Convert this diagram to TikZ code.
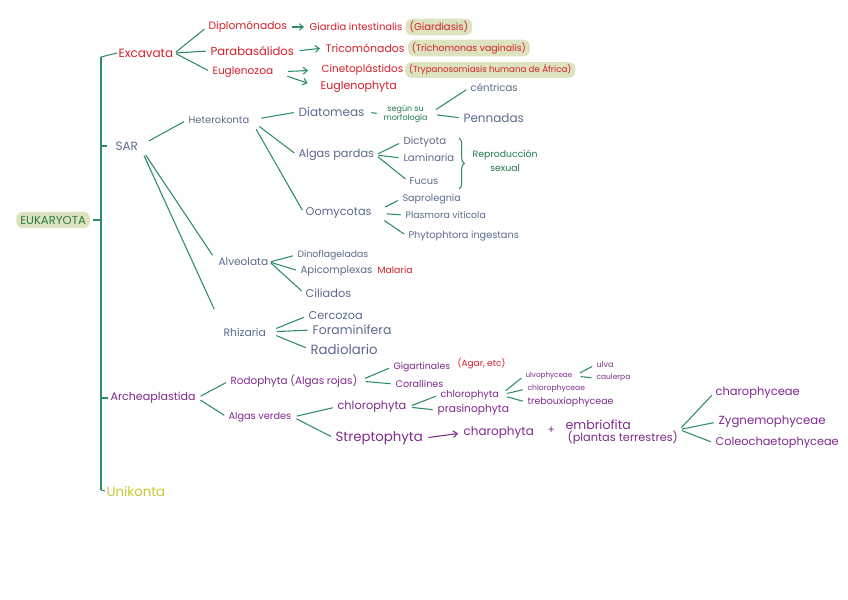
\documentclass[tikz,border=0pt]{standalone}
\usepackage{fontspec}
\setmainfont{Poppins}
\usetikzlibrary{arrows.meta, positioning, decorations.pathreplacing}
\usepackage{xcolor}
\definecolor{lineg}{HTML}{2E8B6C}
\definecolor{redc}{HTML}{D81E2A}
\definecolor{slate}{HTML}{5A6A8E}
\definecolor{purp}{HTML}{7E2A8C}
\definecolor{notec}{HTML}{1F7A4C}
\definecolor{eukc}{HTML}{2F7A4A}
\definecolor{hl}{HTML}{DCE3BE}
\definecolor{yelc}{HTML}{C5CB2E}
\tikzset{
    txt/.style={
        anchor=west, inner sep=1pt
    },
    fs/.style={
        font=\fontsize{#1}{#1}\selectfont
    },
    exctext/.style={
        txt, text=redc
    },
    sartext/.style={
        txt, text=slate
    },
    arqtext/.style={
        txt, text=purp
    },
    note/.style={
        txt, text=notec, align=center
    },
    hlbox/.style={
        fill=hl, rounded corners=5pt, inner xsep=3pt, inner ysep=2pt
    },
    fork/.style={
        draw=lineg, line width=0.8pt, shorten <=#1, shorten >=2.5pt
    },
    fork/.default=1pt,
    tick/.style={
        draw=lineg, line width=0.8pt
    },
    arrow/.style={
        draw=lineg, line width=0.8pt, -{Straight Barb[length=3pt, width=5pt]},
        shorten <=3pt, shorten >=3pt
    },
    brace/.style={
        draw=lineg, line width=0.8pt, decorate,
        decoration={brace, amplitude=4pt}
    }
}

\begin{document}
\begin{tikzpicture}[x=0.75pt, y=-0.75pt]

    \useasboundingbox (0,0) rectangle (848,599);

    % ── Root and main line ──
    \node[txt, hlbox, text=eukc, fs=8.7, inner ysep=3pt] (euk) at (16,220) {EUKARYOTA};

    \coordinate (m-top) at (101,57);
    \coordinate (m-sar) at (101,146);
    \coordinate (m-euk) at (101,220);
    \coordinate (m-arq) at (101,398);
    \coordinate (m-bot) at (101,490);

    % ── Excavata ──
    \node[exctext, fs=9]   (exc)  at (117,53)  {Excavata};
    \node[exctext, fs=8]   (dipl) at (207,27)  {Diplomónados};
    \node[exctext, fs=8.7] (para) at (209,51)  {Parabasálidos};
    \node[exctext, fs=7.9] (eugl) at (211,72)  {Euglenozoa};

    \node[exctext, fs=7.5] (giar) at (308,27)  {Giardia intestinalis};
    \node[exctext, hlbox, fs=7.5, right=1pt of giar] (giard) {(Giardiasis)};
    \node[exctext, fs=8.2] (trico) at (324,48) {Tricomónados};
    \node[exctext, hlbox, fs=7, right=1pt of trico] (trich) {(Trichomonas vaginalis)};
    \node[exctext, fs=7.8] (cine) at (320,70)  {Cinetoplástidos};
    \node[exctext, hlbox, fs=6.5, right=0pt of cine] (tryp) {(Trypanosomiasis humana de África)};
    \node[exctext, fs=8.3] (euph) at (319,87)  {Euglenophyta};

    % ── SAR ──
    \node[sartext, fs=9]   (sar)  at (114,146) {SAR};
    \node[sartext, fs=7.4] (het)  at (187,120) {Heterokonta};
    \node[sartext, fs=7.9] (alv)  at (217,262) {Alveolata};
    \node[sartext, fs=8.1] (rhi)  at (222,332) {Rhizaria};

    \node[sartext, fs=9]   (diat) at (297,112) {Diatomeas};
    \node[note, font=\fontsize{6}{7}\selectfont] (segun) at (382,114) {según su\\morfología};
    \node[sartext, fs=7.6] (cent) at (469,88)  {céntricas};
    \node[sartext, fs=9]   (penn) at (462,118) {Pennadas};

    \node[sartext, fs=8.5] (pard) at (297,155) {Algas pardas};
    \node[sartext, fs=7.7] (dict) at (402,142) {Dictyota};
    \node[sartext, fs=7.6] (lami) at (402,158) {Laminaria};
    \node[sartext, fs=7.4] (fucu) at (408,181) {Fucus};
    \node[note, font=\fontsize{7}{10}\selectfont] (repr) at (471,161) {Reproducción\\sexual};

    \node[sartext, fs=8.5] (oomy) at (304,213) {Oomycotas};
    \node[sartext, fs=7.2] (sapr) at (401,199) {Saprolegnia};
    \node[sartext, fs=7]   (plas) at (404,215) {Plasmora viticola};
    \node[sartext, fs=7.3] (phyt) at (407,236) {Phytophtora ingestans};

    \node[sartext, fs=7]   (dino) at (296,255) {Dinoflageladas};
    \node[sartext, fs=7.6] (apic) at (299,271) {Apicomplexas};
    \node[exctext, fs=7]   (mala) at (376,270) {Malaria};
    \node[sartext, fs=8.5] (cili) at (304,293) {Ciliados};

    \node[sartext, fs=8.5] (cerc) at (307,316) {Cercozoa};
    \node[sartext, fs=9.3] (fora) at (311,330) {Foraminífera};
    \node[sartext, fs=10]  (radi) at (309,349) {Radiolario};

    % ── Archeaplastida ──
    \node[arqtext, fs=8.3] (arq)  at (109,398) {Archeaplastida};
    \node[arqtext, fs=7.8] (rodo) at (229,381) {Rodophyta (Algas rojas)};
    \node[arqtext, fs=7.3] (verd) at (227,417) {Algas verdes};

    \node[arqtext, fs=7]   (giga) at (392,367) {Gigartinales};
    \node[exctext, fs=6.7] (agar) at (456,364) {(Agar, etc)};
    \node[arqtext, fs=7.2] (cora) at (394,384) {Corallines};

    \node[arqtext, fs=8.5] (chl)  at (336,407) {chlorophyta};
    \node[arqtext, fs=10]  (stre) at (334,438) {Streptophyta};
    \node[arqtext, fs=7.2] (chl2) at (439,395) {chlorophyta};
    \node[arqtext, fs=8]   (pras) at (436,410) {prasinophyta};
    \node[arqtext, fs=5.4] (ulvo) at (524,376) {ulvophyceae};
    \node[arqtext, fs=5.7] (chlc) at (526,389) {chlorophyceae};
    \node[arqtext, fs=7.1] (treb) at (526,402) {trebouxiophyceae};
    \node[arqtext, fs=6]   (ulva) at (595,365) {ulva};
    \node[arqtext, fs=5.6] (caul) at (595,378) {caulerpa};

    \node[arqtext, fs=9]   (charo) at (462,433) {charophyta};
    \node[arqtext, fs=8]   (plus)  at (546,430) {+};
    \node[arqtext, fs=9.4] (emb)   at (564,425) {embriofita};
    \node[arqtext, fs=8.5] (terr)  at (566,438) {(plantas terrestres)};
    \node[arqtext, fs=8.6] (chph)  at (714,393) {charophyceae};
    \node[arqtext, fs=8.8] (zygn)  at (717,422) {Zygnemophyceae};
    \node[arqtext, fs=8.5] (cole)  at (714,443) {Coleochaetophyceae};

    % ── Unikonta ──
    \node[txt, text=yelc, fs=10] (uni) at (105,491) {Unikonta};

    % ── Main line and ticks ──
    \draw[tick] (m-top) -- (m-bot);
    \draw[tick] (m-top) -- (exc.west);
    \draw[tick, shorten >=5pt] (m-sar) -- (sar.west);
    \draw[tick, shorten <=2pt] (euk.east) -- (m-euk);
    \draw[tick, shorten >=1pt] (m-arq) -- (arq.west);
    \draw[tick] (m-bot) -- (uni.west);

    % ── Forks ──
    \foreach \c in {dipl,para,eugl}
        \draw[fork] (exc.east) -- (\c.west);
    \draw[arrow] (dipl.east) -- (giar.west);
    \draw[arrow] (para.east) -- (trico.west);
    \draw[arrow, shorten <=10pt, shorten >=9pt] (eugl.east) -- (cine.west);
    \draw[arrow, shorten <=10pt, shorten >=9pt] (eugl.east) -- (euph.west);

    \draw[fork=8pt] (sar.east) -- (het.west);
    \draw[fork=8pt, shorten >=6pt] (sar.east) -- (alv.west);
    \draw[fork=8pt, shorten >=14pt] (sar.east) -- (rhi.north west);

    \foreach \c in {diat,pard,oomy}
        \draw[fork=8pt] (het.east) -- (\c.west);
    \draw[fork=4pt, shorten >=4pt] (diat.east) -- (segun.west);
    \foreach \c in {cent,penn}
        \draw[fork=6pt] (segun.east) -- (\c.west);
    \foreach \c in {dict,lami,fucu}
        \draw[fork=2pt] (pard.east) -- (\c.west);
    \draw[brace] (459,138) -- (459,189);
    \foreach \c in {sapr,plas,phyt}
        \draw[fork=10pt] (oomy.east) -- (\c.west);

    \foreach \c in {dino,apic,cili}
        \draw[fork] (alv.east) -- (\c.west);
    \foreach \c in {cerc,fora,radi}
        \draw[fork=7pt] (rhi.east) -- (\c.west);

    \foreach \c in {rodo,verd}
        \draw[fork=3pt] (arq.east) -- (\c.west);
    \foreach \c in {giga,cora}
        \draw[fork=5pt] (rodo.east) -- (\c.west);
    \foreach \c in {chl,stre}
        \draw[fork=3pt] (verd.east) -- (\c.west);
    \foreach \c in {chl2,pras}
        \draw[fork=3pt] (chl.east) -- (\c.west);
    \foreach \c in {ulvo,chlc,treb}
        \draw[fork=5pt] (chl2.east) -- (\c.west);
    \foreach \c in {ulva,caul}
        \draw[fork=5pt] (ulvo.east) -- (\c.west);
    \draw[arrow, draw=purp] (stre.east) -- (charo.west);
    \foreach \c in {chph,zygn,cole}
        \draw[fork=2pt] (terr.north east) -- (\c.west);

\end{tikzpicture}
\end{document}
